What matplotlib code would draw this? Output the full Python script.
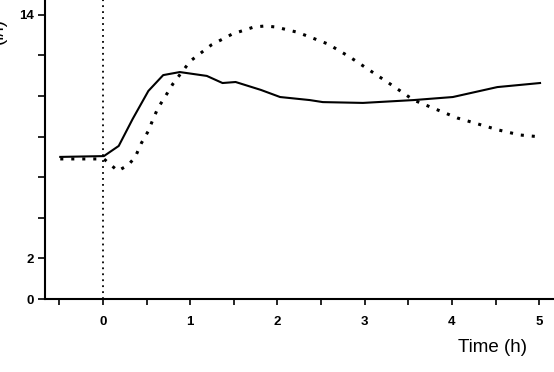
import matplotlib
matplotlib.use("Agg")
import matplotlib.pyplot as plt
from matplotlib.ticker import FixedLocator

plt.rcParams['font.family'] = ['Liberation Sans', 'DejaVu Sans']

# solid curve
t_solid = [-0.49, 0.01, 0.18, 0.34, 0.52, 0.69, 0.88, 1.19, 1.37, 1.52, 1.81,
           2.03, 2.37, 2.52, 2.98, 3.56, 4.01, 4.52, 5.01]
y_solid = [7.00, 7.04, 7.54, 8.87, 10.25, 11.03, 11.18, 10.99, 10.64, 10.69, 10.30,
           9.95, 9.80, 9.70, 9.66, 9.80, 9.95, 10.44, 10.64]

# dotted curve
t_dot = [-0.49, 0.01, 0.17, 0.29, 0.37, 0.44, 0.52, 0.57, 0.63, 0.71, 0.80, 1.00,
         1.24, 1.48, 1.73, 1.86, 1.98, 2.22, 2.34, 2.58, 2.83, 3.07, 3.31, 3.56,
         3.81, 4.06, 4.30, 4.53, 4.78, 5.03]
y_dot = [6.90, 6.90, 6.31, 6.60, 7.00, 7.68, 8.28, 8.82, 9.41, 9.95, 10.59, 11.72,
         12.51, 13.05, 13.40, 13.45, 13.40, 13.15, 12.96, 12.56, 11.92, 11.23, 10.54, 9.80,
         9.36, 8.92, 8.62, 8.33, 8.08, 7.98]

x_major = [0, 1, 2, 3, 4, 5]
y_labels = {0: '0', 2: '2', 14: '14'}

fig = plt.figure(figsize=(5.54, 3.72), dpi=100)
ax = fig.add_axes([45/554, 1 - 299/372, 1 - 45/554, 299/372])

ax.plot(t_solid, y_solid, color='black', lw=1.5)
ax.plot(t_dot, y_dot, color='black', lw=2.2, linestyle=(0, (1, 2.6)))
ax.axvline(0, color='black', lw=1.3, linestyle=(0, (1, 2.3)))

ax.set_xlim(-0.665, 5.17)
ax.set_ylim(0, 14.73)

for s in ['top', 'right']:
    ax.spines[s].set_visible(False)
for s in ['left', 'bottom']:
    ax.spines[s].set_linewidth(1.5)

ax.xaxis.set_major_locator(FixedLocator(x_major))
ax.xaxis.set_minor_locator(FixedLocator([-0.5, 0.5, 1.5, 2.5, 3.5, 4.5]))
ax.set_xticklabels([str(v) for v in x_major], fontweight='bold', fontsize=9.5)
ax.tick_params(axis='x', which='both', direction='out', length=4, width=1.2, pad=8)

yt = list(range(0, 15, 2))
ax.yaxis.set_major_locator(FixedLocator(yt))
ax.set_yticklabels([y_labels.get(v, '') for v in yt], fontweight='bold', fontsize=9.5)
ax.tick_params(axis='y', which='both', direction='out', length=5, width=1.2, pad=3)

fig.text(493/554, 1 - 347/372, 'Time (h)', fontsize=13.5, ha='center', va='center')
# y label, mostly outside the left edge as in the scan
fig.text(7/554, 1 - 18/372, '(l/l)', fontsize=13.5, rotation=90,
         ha='right', va='top')

fig.savefig('out.png', dpi=100)
